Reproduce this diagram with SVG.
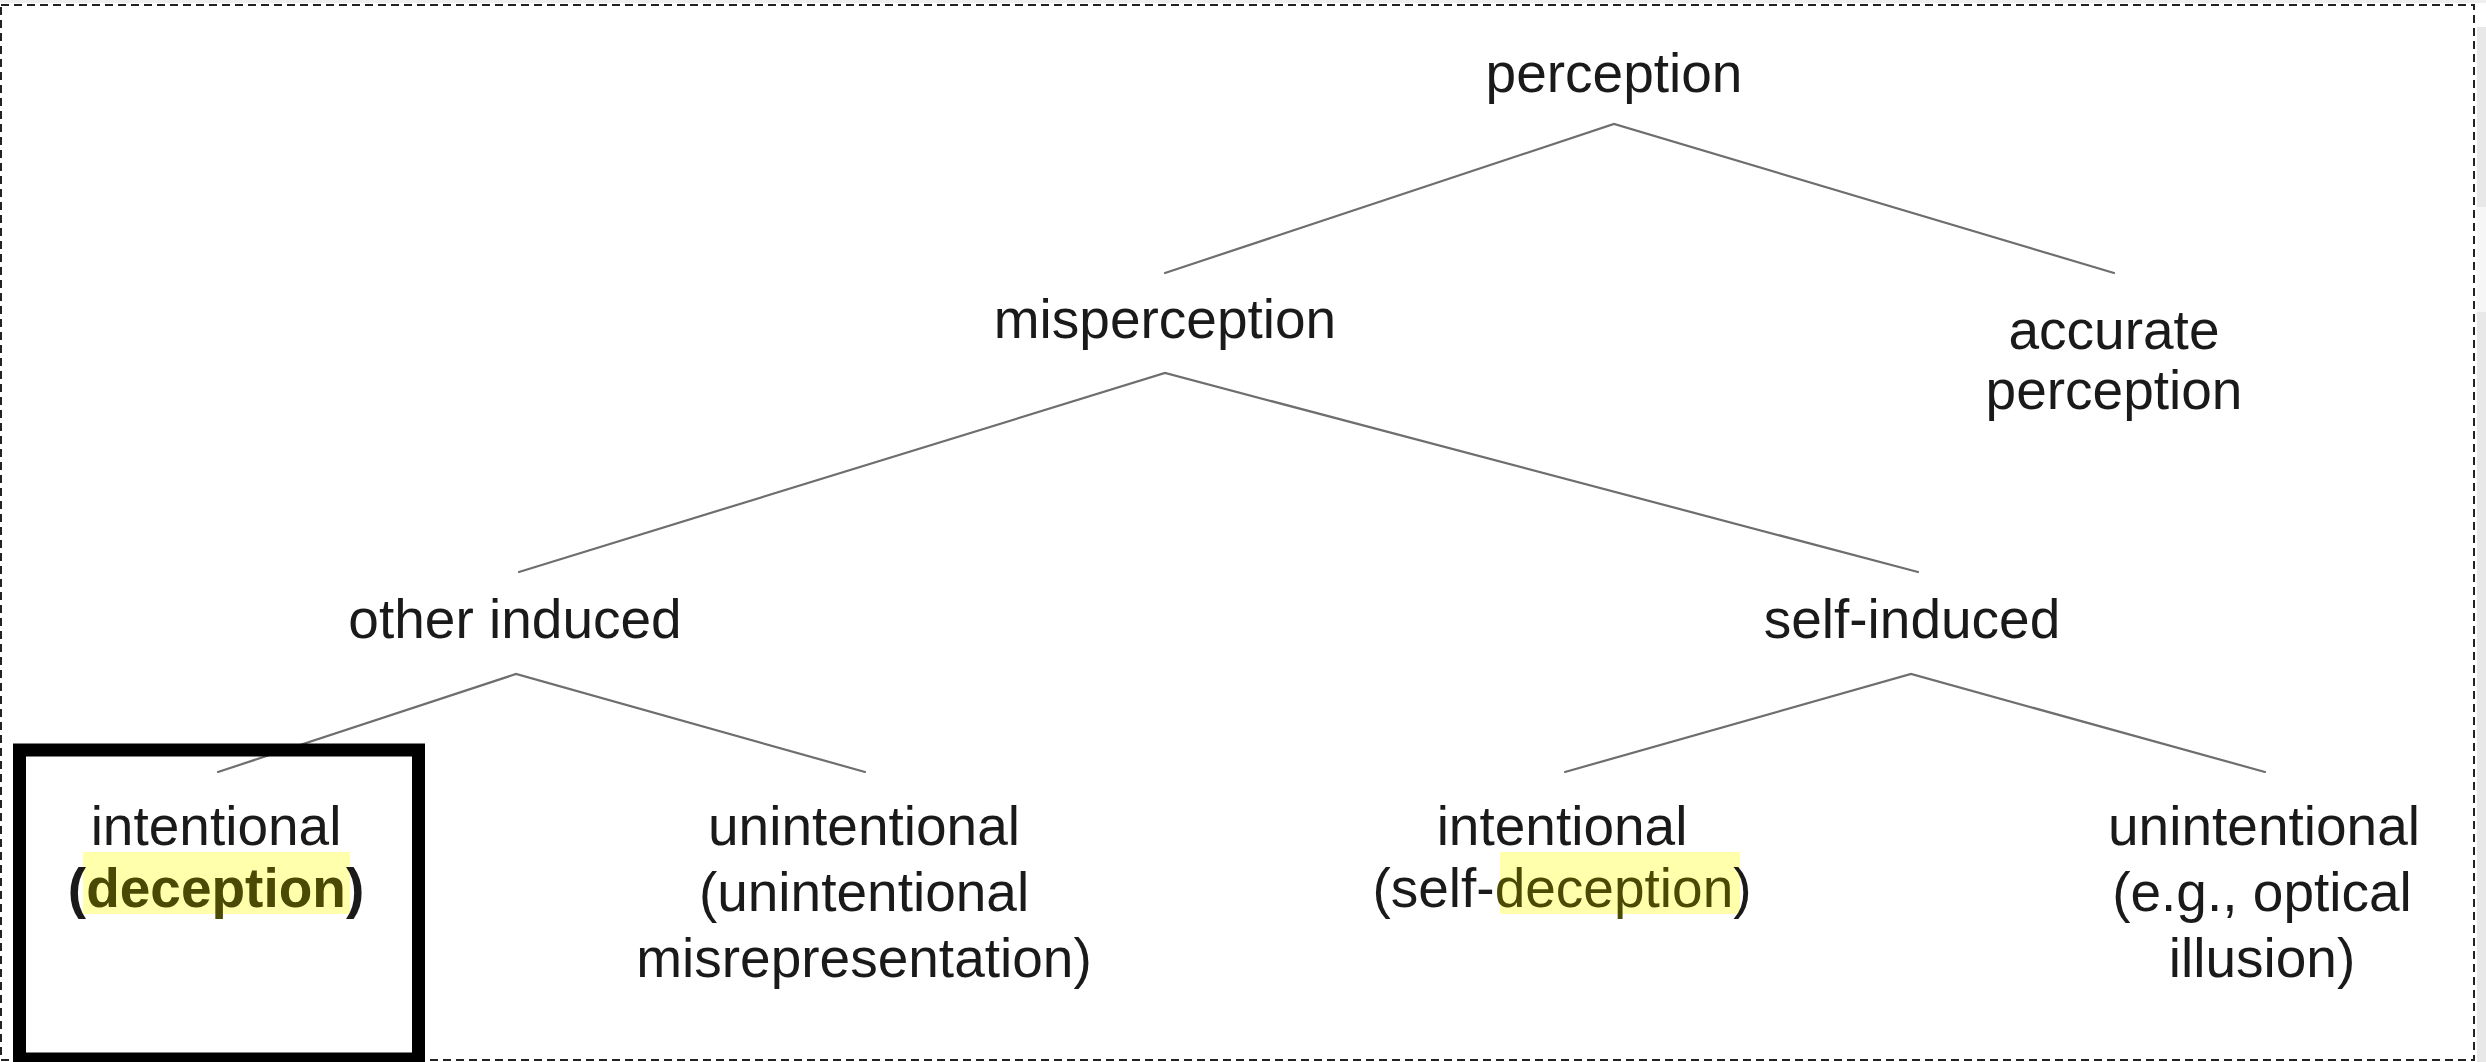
<svg xmlns="http://www.w3.org/2000/svg" width="2486" height="1062" viewBox="0 0 2486 1062">
<style>
.t{font-family:"Liberation Sans",Arial,sans-serif;font-size:55px;fill:#1a1a1a;text-anchor:middle}
.e{stroke:#6e6e6e;stroke-width:2.2;fill:none;stroke-linecap:round}
.hl{fill:#ffffac}
.dec{fill:#4a4a05}
</style>
<rect x="0" y="0" width="2486" height="1062" fill="#ffffff"/>
<rect x="0" y="0" width="2486" height="3" fill="#efefef"/>
<rect x="2477" y="27" width="9" height="180" fill="#e8e8e8"/>
<rect x="2477" y="207" width="9" height="105" fill="#f6f6f6"/>
<rect x="2477" y="312" width="9" height="750" fill="#e8e8e8"/>
<rect x="1" y="5" width="2473" height="1055" fill="none" stroke="#222" stroke-width="2" stroke-dasharray="8 5"/>
<g id="connectors">
<polyline class="e" points="1165,273 1614,124 2114,273"/>
<polyline class="e" points="519,572 1165,373 1918,572"/>
<polyline class="e" points="218,772 516,674 865,772"/>
<polyline class="e" points="1565,772 1911,674 2265,772"/>
</g>
<g id="n-perception"><text class="t" x="1614" y="92">perception</text></g>
<g id="n-misperception"><text class="t" x="1165" y="338">misperception</text></g>
<g id="n-accurate"><text class="t" x="2114" y="349">accurate</text><text class="t" x="2114" y="409">perception</text></g>
<g id="n-other"><text class="t" x="515" y="638">other induced</text></g>
<g id="n-self"><text class="t" x="1912" y="638">self-induced</text></g>
<g id="n-intentional-deception">
<rect class="hl" x="83" y="852" width="267" height="62"/>
<text class="t" x="216" y="845">intentional</text>
<text class="t" x="216" y="907" font-weight="bold">(<tspan class="dec">deception</tspan>)</text>
</g>
<g id="n-unintentional-misrep">
<text class="t" x="864" y="845">unintentional</text>
<text class="t" x="864" y="911">(unintentional</text>
<text class="t" x="864" y="977">misrepresentation)</text>
</g>
<g id="n-self-deception">
<rect class="hl" x="1500" y="852" width="240" height="62"/>
<text class="t" x="1562" y="845">intentional</text>
<text class="t" x="1562" y="907">(self-<tspan class="dec">deception</tspan>)</text>
</g>
<g id="n-illusion">
<text class="t" x="2264" y="845">unintentional</text>
<text class="t" x="2262" y="911">(e.g., optical</text>
<text class="t" x="2262" y="977">illusion)</text>
</g>
<rect id="highlight-box" x="19.5" y="750" width="399" height="309" fill="none" stroke="#000" stroke-width="13"/>
</svg>
